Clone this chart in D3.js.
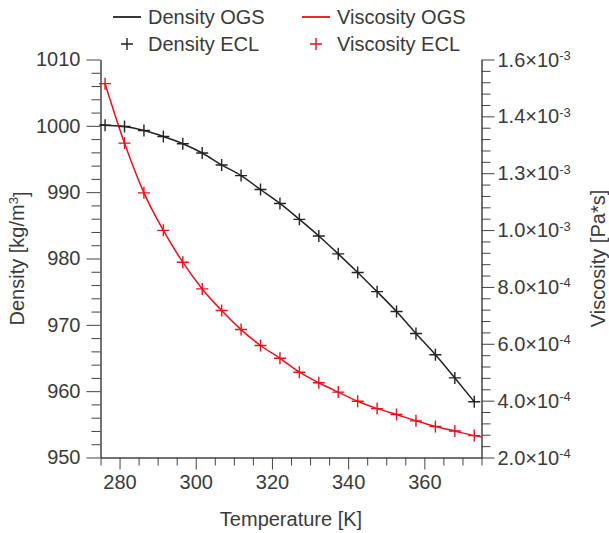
<!DOCTYPE html>
<html>
<head>
<meta charset="utf-8">
<script src="https://cdn.jsdelivr.net/npm/d3@7"></script>
<style>
  body { margin: 0; background: #fff; }
  svg text { font-family: "Liberation Sans", Arial, sans-serif; fill: #3a3a3a; }
</style>
</head>
<body>
<svg id="chart"></svg>
<script>
// temperatures of the ECL samples [K]
var temps = [276.2, 281.3, 286.4, 291.5, 296.6, 301.7, 306.8, 311.9, 317.0, 322.1,
             327.2, 332.3, 337.4, 342.5, 347.6, 352.7, 357.8, 362.9, 368.0, 373.1];
var dens_ecl = [1000.1, 999.9, 999.3, 998.4, 997.3, 995.9, 994.1, 992.5, 990.4, 988.3,
                985.9, 983.4, 980.7, 977.9, 975.0, 972.0, 968.7, 965.5, 962.0, 958.4];
var visc_ecl = [1.515e-3, 1.306e-3, 1.131e-3, 0.999e-3, 0.887e-3, 0.793e-3, 0.717e-3, 0.650e-3, 0.594e-3, 0.549e-3,
                0.500e-3, 0.463e-3, 0.430e-3, 0.398e-3, 0.372e-3, 0.351e-3, 0.329e-3, 0.309e-3, 0.293e-3, 0.277e-3];

// OGS curves
var dens_ogs_t = [275.0, 276.2, 281.3, 286.4, 291.5, 296.6, 301.7, 306.8, 311.9, 317.0, 322.1,
                  327.2, 332.3, 337.4, 342.5, 347.6, 352.7, 357.8, 362.9, 368.0, 373.1];
var dens_ogs = [1000.2, 1000.1, 999.9, 999.3, 998.4, 997.3, 995.9, 994.1, 992.5, 990.4, 988.3,
                985.9, 983.4, 980.7, 977.9, 975.0, 972.0, 968.7, 965.5, 962.0, 958.4];
var visc_ogs_t = [276.2, 281.3, 286.4, 291.5, 296.6, 301.7, 306.8, 311.9, 317.0, 322.1,
                  327.2, 332.3, 337.4, 342.5, 347.6, 352.7, 357.8, 362.9, 368.0, 373.1, 375.0];
var visc_ogs = [1.515e-3, 1.306e-3, 1.131e-3, 0.999e-3, 0.887e-3, 0.793e-3, 0.717e-3, 0.650e-3, 0.594e-3, 0.549e-3,
                0.500e-3, 0.463e-3, 0.430e-3, 0.398e-3, 0.372e-3, 0.351e-3, 0.329e-3, 0.309e-3, 0.293e-3, 0.277e-3, 0.272e-3];

// axis ticks
var t_major = [280, 300, 320, 340, 360];
var t_minor = [275, 285, 290, 295, 305, 310, 315, 325, 330, 335, 345, 350, 355, 365, 370, 375];
var d_major = [950, 960, 970, 980, 990, 1000, 1010];
var v_major = [2e-4, 4e-4, 6e-4, 8e-4, 1.0e-3, 1.2e-3, 1.4e-3, 1.6e-3];
var v_mant = ['2.0', '4.0', '6.0', '8.0', '1.0', '1.3', '1.4', '1.6'];
var v_exp = ['-4', '-4', '-4', '-4', '-3', '-3', '-3', '-3'];

var black = '#222';
var red = '#e8101c';
var fs = 20;

var svg = d3.select('#chart').attr('width', 609).attr('height', 533);

var x = d3.scaleLinear().domain([275, 375]).range([100.5, 481.5]);
var yd = d3.scaleLinear().domain([950, 1010]).range([457.5, 59.5]);
var yv = d3.scaleLinear().domain([2e-4, 1.6e-3]).range([457.5, 59.5]);

function style_axis(g) {
  g.selectAll('path, line').attr('stroke', '#444').attr('stroke-width', 1);
  g.selectAll('text').style('font-size', fs + 'px').attr('fill', '#3a3a3a');
}

// minor ticks
var d_minor = d3.range(950, 1010.1, 2).filter(v => v % 10 != 0);
var v_minor = d3.range(0, 36).map(i => 2e-4 + i * 4e-5).filter((v, i) => i % 5 != 0);

svg.append('g').attr('transform', 'translate(0,457.5)')
  .call(d3.axisBottom(x).tickValues(t_minor).tickSize(8).tickFormat('').tickSizeOuter(0))
  .call(style_axis);
svg.append('g').attr('transform', 'translate(0,457.5)')
  .call(d3.axisBottom(x).tickValues(t_major).tickSize(12).tickPadding(5).tickFormat(d3.format('d')).tickSizeOuter(0))
  .call(style_axis);

svg.append('g').attr('transform', 'translate(100.5,0)')
  .call(d3.axisLeft(yd).tickValues(d_minor).tickSize(9).tickFormat('').tickSizeOuter(0))
  .call(style_axis);
svg.append('g').attr('transform', 'translate(100.5,0)')
  .call(d3.axisLeft(yd).tickValues(d_major).tickSize(14).tickPadding(6).tickFormat(d3.format('d')).tickSizeOuter(0))
  .call(style_axis);

svg.append('g').attr('transform', 'translate(481.5,0)')
  .call(d3.axisRight(yv).tickValues(v_minor).tickSize(9).tickFormat('').tickSizeOuter(0))
  .call(style_axis);
var ry = svg.append('g').attr('transform', 'translate(481.5,0)')
  .call(d3.axisRight(yv).tickValues(v_major).tickSize(13).tickFormat('').tickSizeOuter(0))
  .call(style_axis);

// right tick labels with exponent
ry.selectAll('.vlab')
  .data(v_major)
  .enter()
  .append('text')
    .attr('class', 'vlab')
    .attr('x', 16)
    .attr('y', d => yv(d))
    .attr('dy', '0.35em')
    .style('font-size', fs + 'px')
    .each(function(d, i) {
      let t = d3.select(this);
      t.append('tspan').text(v_mant[i] + '\u00d710');
      t.append('tspan').attr('dy', '-0.5em').style('font-size', '13px').text(v_exp[i]);
    });

// axis titles
svg.append('text')
  .attr('x', 291).attr('y', 526)
  .attr('text-anchor', 'middle')
  .style('font-size', fs + 'px')
  .text('Temperature [K]');

var dl = svg.append('text')
  .attr('transform', 'translate(24,258.5) rotate(-90)')
  .attr('text-anchor', 'middle')
  .style('font-size', fs + 'px');
dl.append('tspan').text('Density [kg/m');
dl.append('tspan').attr('dy', '-0.5em').style('font-size', '13px').text('3');
dl.append('tspan').attr('dy', '0.5em').text(']');

svg.append('text')
  .attr('transform', 'translate(605,258.5) rotate(-90)')
  .attr('text-anchor', 'middle')
  .style('font-size', fs + 'px')
  .text('Viscosity [Pa*s]');

// curves
var line_d = d3.line().x((d, i) => x(dens_ogs_t[i])).y(d => yd(d)).curve(d3.curveMonotoneX);
var line_v = d3.line().x((d, i) => x(visc_ogs_t[i])).y(d => yv(d)).curve(d3.curveMonotoneX);

svg.append('path').datum(dens_ogs)
  .attr('d', line_d)
  .attr('fill', 'none').attr('stroke', black).attr('stroke-width', 1.5);
svg.append('path').datum(visc_ogs)
  .attr('d', line_v)
  .attr('fill', 'none').attr('stroke', red).attr('stroke-width', 1.5);

function plus(g, px, py, col) {
  let s = 6;
  g.append('path')
    .attr('d', 'M' + (px - s) + ',' + py + 'H' + (px + s) + 'M' + px + ',' + (py - s) + 'V' + (py + s))
    .attr('stroke', col).attr('stroke-width', 1.4).attr('fill', 'none');
}

var marks = svg.append('g');
dens_ecl.forEach((d, i) => plus(marks, x(temps[i]), yd(d), black));
visc_ecl.forEach((v, i) => plus(marks, x(temps[i]), yv(v), red));

// legend
var leg = svg.append('g');
var leg_items = [
  {name: 'Density OGS', col: black, kind: 'line', lx: 113, ly: 17},
  {name: 'Viscosity OGS', col: red, kind: 'line', lx: 302, ly: 17},
  {name: 'Density ECL', col: black, kind: 'plus', lx: 113, ly: 44},
  {name: 'Viscosity ECL', col: red, kind: 'plus', lx: 302, ly: 44}
];
for (let it of leg_items) {
  if (it.kind == 'line') {
    leg.append('line')
      .attr('x1', it.lx).attr('x2', it.lx + 28)
      .attr('y1', it.ly).attr('y2', it.ly)
      .attr('stroke', it.col).attr('stroke-width', 1.8);
  } else {
    plus(leg, it.lx + 14, it.ly, it.col);
  }
  leg.append('text')
    .attr('x', it.lx + 35).attr('y', it.ly)
    .attr('dy', '0.35em')
    .style('font-size', fs + 'px')
    .text(it.name);
}
</script>
</body>
</html>
